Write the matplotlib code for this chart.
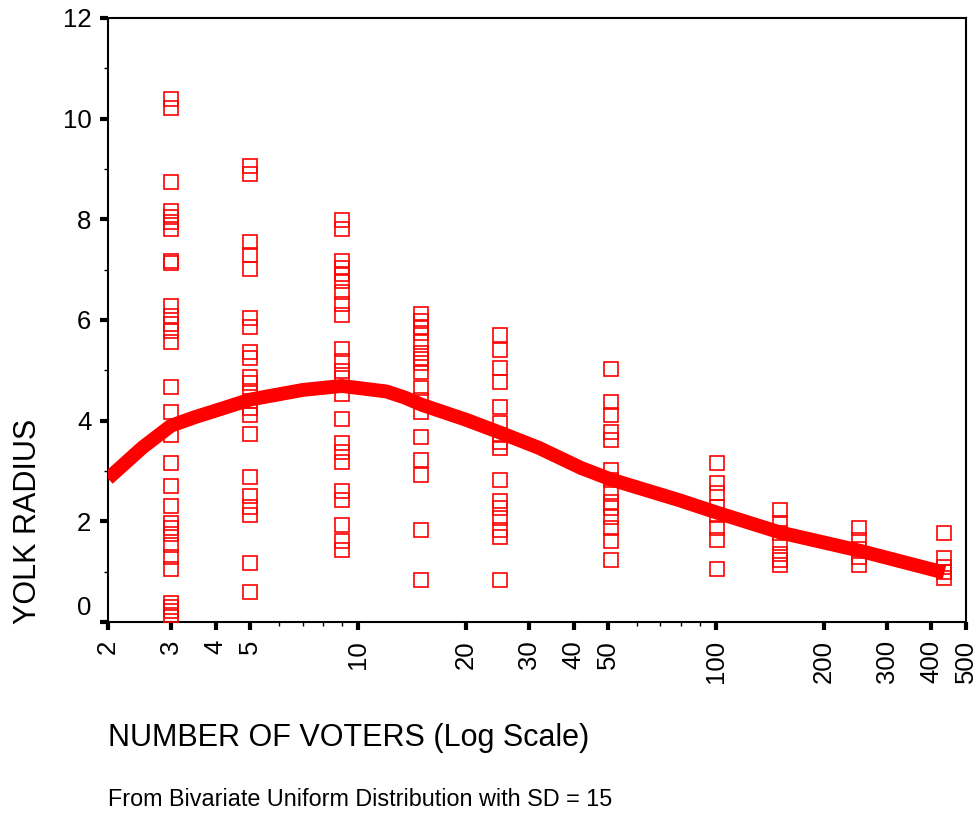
import matplotlib
matplotlib.use("Agg")
import matplotlib.pyplot as plt
from matplotlib.ticker import FixedLocator, NullFormatter, FuncFormatter

plt.rcParams["font.family"] = ["Liberation Sans", "DejaVu Sans"]

# Number of voters for each simulated group
voters = [3, 5, 9, 15, 25, 51, 101, 151, 251, 435]

# Yolk radius observed for each group size
r3 = [10.40, 10.22, 8.74, 8.16, 8.04, 7.94, 7.81, 7.18, 7.14, 6.28, 6.07, 5.92,
      5.79, 5.56, 4.67, 4.18, 3.72, 3.15, 2.71, 2.30, 1.97, 1.86, 1.75, 1.52,
      1.30, 1.05, 0.38, 0.30, 0.22, 0.14]
r5 = [9.05, 8.90, 7.54, 7.29, 7.02, 6.03, 5.87, 5.37, 5.24, 4.87, 4.74, 4.55,
      4.40, 4.25, 4.11, 3.74, 2.88, 2.51, 2.29, 2.13, 1.18, 0.60]
r9 = [7.98, 7.80, 7.17, 7.04, 6.92, 6.78, 6.56, 6.32, 6.09, 5.43, 5.19, 4.99,
      4.84, 4.53, 4.03, 3.55, 3.37, 3.18, 2.60, 2.43, 1.93, 1.60, 1.44]
r15 = [6.12, 5.99, 5.87, 5.74, 5.57, 5.34, 5.22, 5.14, 4.97, 4.64, 4.41, 4.18,
       3.68, 3.22, 2.92, 1.83, 0.83]
r25 = [5.70, 5.40, 5.04, 4.76, 4.27, 3.95, 3.72, 3.58, 3.45, 2.83, 2.40, 2.26,
       2.06, 1.83, 1.68, 0.83]
r51 = [5.03, 4.38, 4.11, 3.78, 3.62, 3.02, 2.82, 2.59, 2.39, 2.26, 2.09, 1.86,
       1.60, 1.23]
r101 = [3.15, 2.76, 2.56, 2.29, 2.13, 1.86, 1.63, 1.06]
r151 = [2.23, 1.96, 1.76, 1.56, 1.36, 1.23, 1.13]
r251 = [1.86, 1.63, 1.46, 1.30, 1.13]
r435 = [1.76, 1.27, 1.10, 1.00, 0.87]
radii = [r3, r5, r9, r15, r25, r51, r101, r151, r251, r435]

# Smoothed fit through the scatter
fit_x = [2, 2.5, 3, 3.5, 4, 5, 7, 9, 12, 13.5, 15, 20, 25, 32, 42, 51, 79,
         101, 151, 251, 435]
fit_y = [2.85, 3.47, 3.90, 4.07, 4.20, 4.42, 4.61, 4.69, 4.58, 4.46, 4.32, 4.02,
         3.76, 3.46, 3.06, 2.83, 2.42, 2.17, 1.78, 1.42, 0.98]

# Axis ticks
x_major = [2, 3, 4, 5, 10, 20, 30, 40, 50, 100, 200, 300, 400, 500]
x_minor = [6, 7, 8, 9, 60, 70, 80, 90]
y_major = [0, 2, 4, 6, 8, 10, 12]
y_minor = [1, 3, 5, 7, 9, 11]

RED = "#ff0000"
TICK_FS = 18.5

fig = plt.figure(figsize=(9.77, 8.16), dpi=100)
ax = fig.add_axes([108 / 977, 1 - 622 / 816, (966 - 108) / 977, (622 - 18) / 816])

for v, rs in zip(voters, radii):
    ax.plot([v] * len(rs), rs, linestyle="none", marker="s", markersize=10.3,
            markerfacecolor="none", markeredgecolor=RED, markeredgewidth=1.2,
            zorder=3)

ax.plot(fit_x, fit_y, color=RED, linewidth=10, solid_capstyle="butt",
        solid_joinstyle="round", zorder=4)

ax.set_xscale("log")
ax.set_xlim(2, 500)
ax.set_ylim(0, 12)

ax.xaxis.set_major_locator(FixedLocator(x_major))
ax.xaxis.set_minor_locator(FixedLocator(x_minor))
ax.xaxis.set_major_formatter(FuncFormatter(lambda v, p: f"{v:g}"))
ax.xaxis.set_minor_formatter(NullFormatter())
ax.yaxis.set_major_locator(FixedLocator(y_major))
ax.yaxis.set_minor_locator(FixedLocator(y_minor))
ax.yaxis.set_major_formatter(FuncFormatter(lambda v, p: "" if v == 0 else f"{v:g}"))

for s in ax.spines.values():
    s.set_linewidth(1.5)
    s.set_color("black")

ax.tick_params(which="major", direction="out", length=6, width=3, color="black",
               labelsize=TICK_FS)
ax.tick_params(which="minor", direction="out", length=3, width=1, color="black")
ax.tick_params(axis="x", which="major", pad=7, labelrotation=90)
ax.tick_params(axis="y", which="major", pad=6)

# The zero label sits a little above its tick
ax.annotate("0", xy=(0, 0), xycoords=("axes fraction", "data"),
            xytext=(-12, 10), textcoords="offset points",
            ha="right", va="center", fontsize=TICK_FS)

fig.text(28 / 977, 1 - 624 / 816, "YOLK RADIUS", rotation=90, ha="center",
         va="bottom", fontsize=22)
fig.text(108 / 977, 1 - 738 / 816, "NUMBER OF VOTERS (Log Scale)", ha="left",
         va="center", fontsize=22)
fig.text(108 / 977, 1 - 800 / 816, "From Bivariate Uniform Distribution with SD = 15",
         ha="left", va="center", fontsize=16.8)

fig.savefig("out.png", dpi=100)
